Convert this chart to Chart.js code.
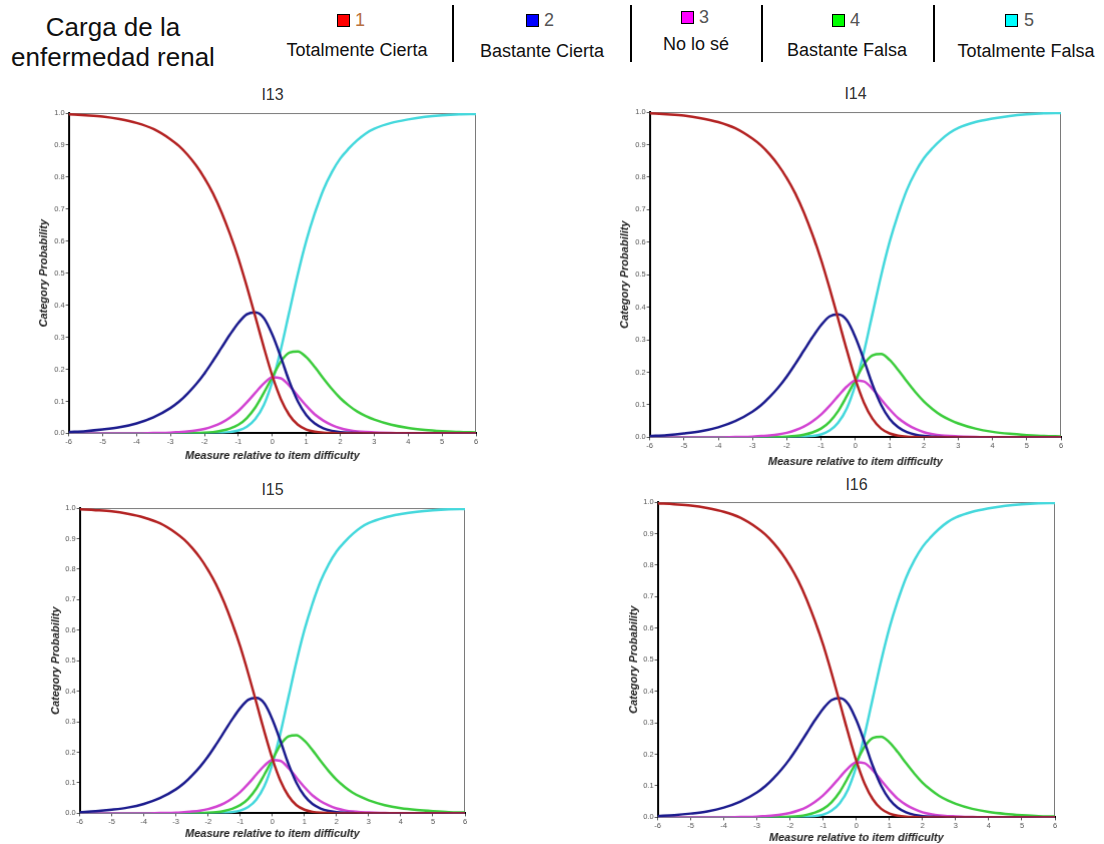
<!DOCTYPE html>
<html lang="es">
<head>
<meta charset="UTF-8"/>
<title>Carga de la enfermedad renal</title>
<script src="https://cdn.jsdelivr.net/npm/chart.js"></script>
<style>
  * { box-sizing: border-box; margin: 0; padding: 0; }
  body { width: 1104px; height: 844px; background: #fff; font-family: Arial, 'Liberation Sans', sans-serif; position: relative; overflow: hidden; }
  .abs { position: absolute; }
  .head { font-size: 26px; line-height: 30px; text-align: center; color: #111; }
  .num { font-size: 18px; line-height: 22px; color: #555; }
  .lab { font-size: 18px; line-height: 22px; color: #111; text-align: center; white-space: nowrap; }
  .sq { width: 13px; height: 13px; border: 1px solid #000; }
  .sep { width: 2px; background: #000; top: 5px; height: 57px; }
  .ptitle { font-size: 16px; line-height: 20px; color: #333; text-align: center; width: 100px; }
</style>
</head>
<body>

<!-- header / legend -->
<div class="abs head" style="left:0; width:226px; top:12px">Carga de la<br>enfermedad renal</div>

<div class="abs sq" style="left:337px; top:14px; background:#ff0000"></div>
<div class="abs num" style="left:355px; top:9px; color:#b87040">1</div>
<div class="abs lab" style="left:257px; width:200px; top:39px">Totalmente Cierta</div>
<div class="abs sep" style="left:452px"></div>

<div class="abs sq" style="left:526px; top:14px; background:#0000ff"></div>
<div class="abs num" style="left:544px; top:9px">2</div>
<div class="abs lab" style="left:442px; width:200px; top:40px">Bastante Cierta</div>
<div class="abs sep" style="left:630px"></div>

<div class="abs sq" style="left:681px; top:11px; background:#ff00ff"></div>
<div class="abs num" style="left:699px; top:6px">3</div>
<div class="abs lab" style="left:596px; width:200px; top:33px">No lo sé</div>
<div class="abs sep" style="left:761px"></div>

<div class="abs sq" style="left:832px; top:14px; background:#00ff00"></div>
<div class="abs num" style="left:850px; top:9px">4</div>
<div class="abs lab" style="left:747px; width:200px; top:39px">Bastante Falsa</div>
<div class="abs sep" style="left:933px"></div>

<div class="abs sq" style="left:1005px; top:14px; background:#00ffff"></div>
<div class="abs num" style="left:1024px; top:9px">5</div>
<div class="abs lab" style="left:926px; width:200px; top:40px">Totalmente Falsa</div>

<div id="panels"></div>

<script>
// measure relative to item difficulty (x) and category probability curves
const xValues = [-6, -5.5, -5, -4.5, -4, -3.5, -3, -2.75, -2.5, -2.25, -2, -1.75, -1.5, -1.25, -1, -0.75, -0.5, -0.25, 0,
                 0.25, 0.5, 0.75, 1, 1.25, 1.5, 1.75, 2, 2.25, 2.5, 2.75, 3, 3.5, 4, 4.5, 5, 5.5, 6];
const cat1 = [0.996, 0.993, 0.989, 0.981, 0.969, 0.95, 0.918, 0.897, 0.87, 0.837, 0.797, 0.749, 0.691, 0.623, 0.546, 0.458, 0.364, 0.268, 0.179,
              0.107, 0.057, 0.027, 0.012, 0.005, 0.002, 0.001, 0, 0, 0, 0, 0, 0, 0, 0, 0, 0, 0];
const cat2 = [0.004, 0.007, 0.012, 0.019, 0.031, 0.05, 0.079, 0.099, 0.124, 0.153, 0.187, 0.226, 0.267, 0.308, 0.345, 0.372, 0.378, 0.36, 0.308,
              0.238, 0.162, 0.1, 0.057, 0.031, 0.016, 0.008, 0.004, 0.002, 0.001, 0, 0, 0, 0, 0, 0, 0, 0];
const cat3 = [0, 0, 0, 0, 0, 0.001, 0.002, 0.004, 0.006, 0.009, 0.014, 0.022, 0.033, 0.049, 0.07, 0.097, 0.127, 0.156, 0.175,
              0.172, 0.149, 0.117, 0.086, 0.059, 0.04, 0.026, 0.016, 0.01, 0.006, 0.004, 0.003, 0.001, 0, 0, 0, 0, 0];
const cat4 = [0, 0, 0, 0, 0, 0, 0, 0, 0.001, 0.001, 0.002, 0.004, 0.008, 0.015, 0.027, 0.048, 0.081, 0.127, 0.176,
              0.224, 0.252, 0.256, 0.238, 0.207, 0.172, 0.139, 0.11, 0.087, 0.068, 0.054, 0.043, 0.027, 0.017, 0.011, 0.007, 0.004, 0.003];
const cat5 = [0, 0, 0, 0, 0, 0, 0, 0, 0, 0, 0, 0.001, 0.002, 0.004, 0.009, 0.021, 0.045, 0.089, 0.162,
              0.262, 0.38, 0.497, 0.601, 0.687, 0.76, 0.815, 0.858, 0.889, 0.915, 0.936, 0.951, 0.969, 0.98, 0.988, 0.993, 0.996, 0.997];

const categories = ['Totalmente Cierta', 'Bastante Cierta', 'No lo sé', 'Bastante Falsa', 'Totalmente Falsa'];
const items = ['I13', 'I14', 'I15', 'I16'];
const xRange = [-6, 6];
const yRange = [0, 1];

const series = [cat1, cat2, cat3, cat4, cat5];
const lineColors = ['#b32222', '#1c1c8e', '#d244d2', '#3ccc3c', '#44d8dc'];

// where each plot area sits on the page
const layout = {
  I13: { left: 69,  top: 113, right: 476,  bottom: 433, yTitle: 25, xTitle: 23, titleY: 95 },
  I14: { left: 650, top: 112, right: 1061, bottom: 437, yTitle: 25, xTitle: 25, titleY: 94 },
  I15: { left: 80,  top: 508, right: 465,  bottom: 813, yTitle: 24, xTitle: 21, titleY: 490 },
  I16: { left: 658, top: 502, right: 1055, bottom: 817, yTitle: 24, xTitle: 21, titleY: 485 }
};

Chart.defaults.font.family = "Arial, 'Liberation Sans', sans-serif";

const frame = {
  id: 'frame',
  beforeDatasetsDraw(chart) {
    const { ctx, chartArea: a } = chart;
    ctx.save();
    ctx.strokeStyle = '#7a7a7a';
    ctx.lineWidth = 1;
    ctx.beginPath();
    ctx.moveTo(a.left, a.top + 0.5);
    ctx.lineTo(a.right - 0.5, a.top + 0.5);
    ctx.lineTo(a.right - 0.5, a.bottom);
    ctx.stroke();
    ctx.restore();
  }
};

const PAD = 8;
const titleFont = { size: 11, weight: 'bold', style: 'italic', lineHeight: 1.2 };
const half = titleFont.size * titleFont.lineHeight / 2;
const tickFont = { size: 7.5 };
const holder = document.getElementById('panels');

items.forEach(name => {
  const g = layout[name];
  const wy = g.yTitle + half;
  const hx = g.xTitle + half;
  const cl = g.left - wy, ct = g.top - PAD;
  const cw = g.right + PAD - cl, ch = g.bottom + hx - ct;

  const t = document.createElement('div');
  t.className = 'abs ptitle';
  t.style.left = ((g.left + g.right) / 2 - 50) + 'px';
  t.style.top = (g.titleY - 10) + 'px';
  t.textContent = name;
  holder.appendChild(t);

  const c = document.createElement('canvas');
  c.className = 'abs';
  c.width = cw; c.height = ch;
  c.style.left = cl + 'px'; c.style.top = ct + 'px';
  c.style.width = cw + 'px'; c.style.height = ch + 'px';
  holder.appendChild(c);

  new Chart(c.getContext('2d'), {
    type: 'line',
    data: {
      datasets: series.map((s, i) => ({
        label: categories[i],
        data: xValues.map((x, j) => ({ x, y: s[j] })),
        borderColor: lineColors[i],
        borderWidth: 2.5,
        pointRadius: 0,
        fill: false,
        cubicInterpolationMode: 'monotone'
      }))
    },
    options: {
      responsive: false,
      animation: false,
      devicePixelRatio: 1,
      layout: { padding: { left: 0, top: PAD, right: PAD, bottom: 0 } },
      plugins: { legend: { display: false }, tooltip: { enabled: false } },
      scales: {
        x: {
          type: 'linear', min: xRange[0], max: xRange[1],
          ticks: { stepSize: 1, font: tickFont, color: '#555', padding: 1, maxRotation: 0, autoSkip: false },
          grid: { drawOnChartArea: false, drawTicks: true, tickLength: 3, color: '#555' },
          border: { color: '#000', width: 2 },
          title: { display: true, text: 'Measure relative to item difficulty', font: titleFont, color: '#222', padding: 0 },
          afterFit(s) { s.height = hx; }
        },
        y: {
          type: 'linear', min: yRange[0], max: yRange[1],
          ticks: { stepSize: 0.1, font: tickFont, color: '#555', padding: 1, callback: v => v.toFixed(1) },
          grid: { drawOnChartArea: false, drawTicks: true, tickLength: 3, color: '#555' },
          border: { color: '#000', width: 2 },
          title: { display: true, text: 'Category Probability', font: titleFont, color: '#222', padding: 0 },
          afterFit(s) { s.width = wy; }
        }
      }
    },
    plugins: [frame]
  });
});
</script>
</body>
</html>
